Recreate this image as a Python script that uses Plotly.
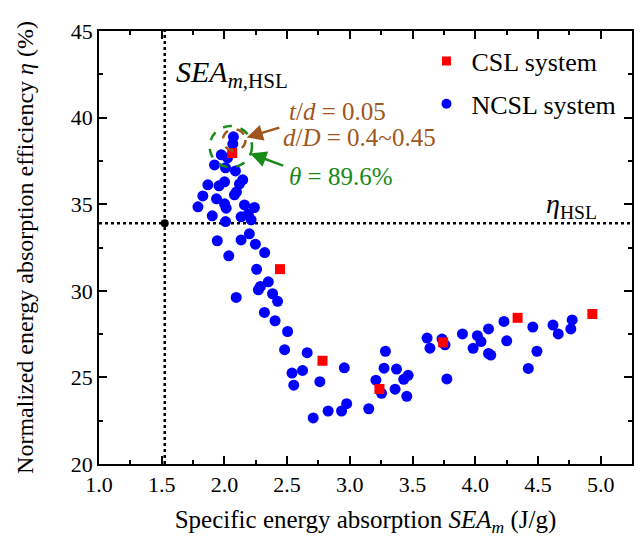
import plotly.graph_objects as go

# CSL system (square markers)
csl_sea = [2.062, 2.443, 2.782, 3.236, 3.744, 4.338, 4.934]
csl_eta = [37.95, 31.25, 25.96, 24.33, 27.02, 28.44, 28.66]

# NCSL system (circle markers)
ncsl_sea = [2.072, 2.067, 1.975, 2.025, 1.921, 2.009, 2.088, 2.146, 2.120, 2.001,
            1.957, 1.868, 2.080, 2.096, 1.828, 1.937, 2.001, 2.014, 1.789, 2.160,
            2.239, 1.903, 2.009, 2.133, 2.191, 2.213, 2.199, 2.133, 1.943, 2.247,
            2.321, 2.035, 2.257, 2.350, 2.287, 2.271, 2.384, 2.424, 2.094, 2.319,
            2.404, 2.504, 2.480, 2.660, 2.539, 2.623, 2.553, 2.761, 2.956, 2.708,
            2.827, 2.934, 2.975, 3.151, 3.284, 3.273, 3.372, 3.208, 3.253, 3.361,
            3.430, 3.465, 3.454, 3.616, 3.639, 3.735, 3.759, 3.774, 3.898, 4.017,
            4.046, 3.983, 4.106, 4.106, 4.124, 4.229, 4.251, 4.459, 4.492, 4.423,
            4.620, 4.662, 4.773, 4.762]
ncsl_eta = [38.89, 38.48, 37.85, 37.67, 37.27, 37.10, 36.92, 36.41, 36.17, 36.29,
            36.06, 36.12, 35.54, 35.71, 35.48, 35.31, 35.02, 34.77, 34.85, 34.96,
            34.81, 34.33, 34.00, 34.27, 34.44, 34.10, 33.29, 32.94, 32.89, 32.69,
            32.21, 32.02, 31.24, 30.52, 30.25, 30.06, 29.83, 29.39, 29.62, 28.75,
            28.27, 27.65, 26.60, 26.43, 25.25, 25.40, 24.55, 24.75, 25.55, 22.66,
            23.06, 23.06, 23.48, 23.19, 26.51, 25.53, 25.48, 24.84, 24.08, 24.32,
            24.89, 25.12, 23.91, 27.27, 26.69, 27.21, 26.88, 24.91, 27.51, 27.41,
            27.07, 26.68, 27.80, 26.38, 26.29, 28.23, 27.11, 27.91, 26.51, 25.52,
            28.02, 27.51, 28.32, 27.80]

# reference (HSL) values
sea_hsl = 1.524
eta_hsl = 33.9

x_range = [1.0, 5.25]
y_range = [20, 45]
x_ticks = [1.0, 1.5, 2.0, 2.5, 3.0, 3.5, 4.0, 4.5, 5.0]
x_tick_text = ["1.0", "1.5", "2.0", "2.5", "3.0", "3.5", "4.0", "4.5", "5.0"]
y_ticks = [20, 25, 30, 35, 40, 45]

FONT = "Liberation Serif, Times New Roman, serif"
BROWN = "#A0561C"
GREEN = "#178A17"

fig = go.Figure()

# dotted reference lines and their intersection
fig.add_trace(go.Scatter(x=[sea_hsl, sea_hsl], y=y_range, mode="lines",
                         line=dict(color="black", width=2.5, dash="dot"),
                         showlegend=False, hoverinfo="skip"))
fig.add_trace(go.Scatter(x=x_range, y=[eta_hsl, eta_hsl], mode="lines",
                         line=dict(color="black", width=2.5, dash="dot"),
                         showlegend=False, hoverinfo="skip"))
fig.add_trace(go.Scatter(x=[sea_hsl], y=[eta_hsl], mode="markers",
                         marker=dict(color="black", size=8),
                         showlegend=False, cliponaxis=False))

fig.add_trace(go.Scatter(x=ncsl_sea, y=ncsl_eta, mode="markers",
                         marker=dict(symbol="circle", color="#0000FF", size=11,
                                     line=dict(width=0)),
                         showlegend=False))
fig.add_trace(go.Scatter(x=csl_sea, y=csl_eta, mode="markers",
                         marker=dict(symbol="square", color="#FF0000", size=10,
                                     line=dict(width=0)),
                         showlegend=False))

# legend entries with smaller symbols
fig.add_trace(go.Scatter(x=[None], y=[None], mode="markers", name="CSL system",
                         legendgroup="a",
                         marker=dict(symbol="square", color="#FF0000", size=9)))
fig.add_trace(go.Scatter(x=[None], y=[None], mode="markers", name="NCSL system",
                         legendgroup="b",
                         marker=dict(symbol="circle", color="#0000FF", size=10)))

# highlight circles around the best designs
fig.add_shape(type="circle", xref="x", yref="y",
              x0=2.051 - 0.169, x1=2.051 + 0.169, y0=38.32 - 1.19, y1=38.32 + 1.19,
              line=dict(color=GREEN, width=2.5, dash="dash"))
fig.add_shape(type="circle", xref="x", yref="y",
              x0=2.078 - 0.090, x1=2.078 + 0.090, y0=38.71 - 0.62, y1=38.71 + 0.62,
              line=dict(color=BROWN, width=2.5, dash="dash"))

# arrows pointing at the circles
fig.add_annotation(x=2.177, y=38.85, ax=2.45, ay=39.45, xref="x", yref="y",
                   axref="x", ayref="y", text="", showarrow=True,
                   arrowhead=2, arrowsize=1.3, arrowwidth=2.5, arrowcolor=BROWN)
fig.add_annotation(x=2.205, y=37.93, ax=2.48, ay=37.2, xref="x", yref="y",
                   axref="x", ayref="y", text="", showarrow=True,
                   arrowhead=2, arrowsize=1.3, arrowwidth=2.5, arrowcolor=GREEN)

fig.add_annotation(x=2.50, y=40.35, xref="x", yref="y", xanchor="left", yanchor="middle",
                   text="<i>t</i>/<i>d</i> = 0.05", showarrow=False,
                   font=dict(family=FONT, size=25, color=BROWN))
fig.add_annotation(x=2.45, y=38.85, xref="x", yref="y", xanchor="left", yanchor="middle",
                   text="<i>d</i>/<i>D</i> = 0.4~0.45", showarrow=False,
                   font=dict(family=FONT, size=25, color=BROWN))
fig.add_annotation(x=2.50, y=36.6, xref="x", yref="y", xanchor="left", yanchor="middle",
                   text="<i>θ</i> = 89.6%", showarrow=False,
                   font=dict(family=FONT, size=25, color=GREEN))

fig.add_annotation(x=1.6, y=42.5, xref="x", yref="y", xanchor="left", yanchor="middle",
                   text="<i>SEA</i><sub><i>m</i>,HSL</sub>", showarrow=False,
                   font=dict(family=FONT, size=30, color="black"))
fig.add_annotation(x=4.55, y=34.9, xref="x", yref="y", xanchor="left", yanchor="middle",
                   text="<i>η</i><sub>HSL</sub>", showarrow=False,
                   font=dict(family=FONT, size=28, color="black"))

axis_common = dict(
    showline=True, linecolor="black", linewidth=1.5, mirror="ticks",
    ticks="inside", ticklen=8, tickwidth=1.5, tickcolor="black",
    showgrid=False, zeroline=False,
    tickfont=dict(family=FONT, size=22, color="black"),
)

fig.update_xaxes(range=x_range, tickvals=x_ticks, ticktext=x_tick_text,
                 minor=dict(dtick=0.25, ticks="inside", ticklen=4.5, tickwidth=1.5,
                            tickcolor="black"),
                 title=dict(text="Specific energy absorption <i>SEA<sub>m</sub></i> (J/g)",
                            font=dict(family=FONT, size=25, color="black"), standoff=14),
                 **axis_common)
fig.update_yaxes(range=y_range, tickvals=y_ticks,
                 minor=dict(dtick=2.5, ticks="inside", ticklen=4.5, tickwidth=1.5,
                            tickcolor="black"),
                 title=dict(text="Normalized energy absorption efficiency <i>η</i> (%)",
                            font=dict(family=FONT, size=24, color="black"), standoff=30),
                 **axis_common)

fig.update_layout(
    width=644, height=545,
    margin=dict(l=99, r=10, t=31, b=81),
    plot_bgcolor="white", paper_bgcolor="white",
    font=dict(family=FONT, color="black"),
    legend=dict(x=0.605, y=0.985, xanchor="left", yanchor="top",
                bgcolor="rgba(0,0,0,0)", font=dict(family=FONT, size=26),
                tracegroupgap=6, itemwidth=40),
)

fig.write_html("out.html")
